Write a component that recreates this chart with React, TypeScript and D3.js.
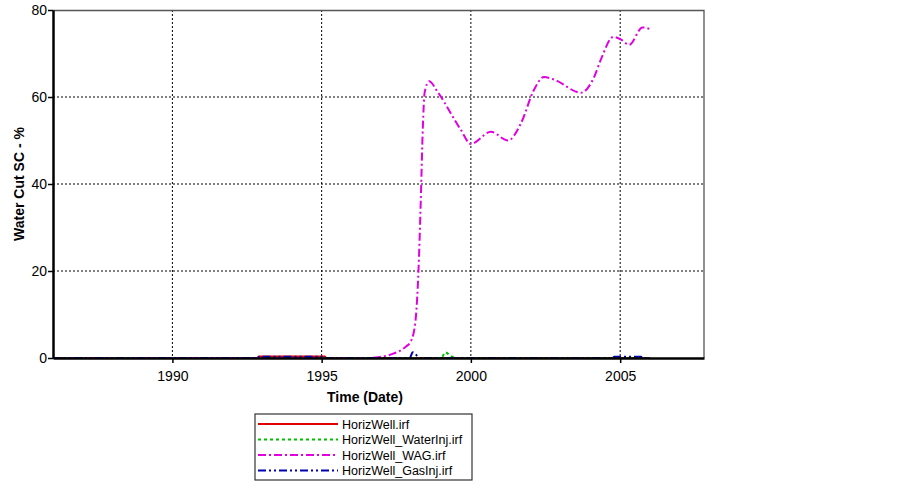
import React, { useEffect, useRef } from 'react';
import * as d3 from 'd3';

// decimal years
const wagYears = [1986.0, 1996.5, 1996.9, 1997.4, 1997.8, 1998.0, 1998.15, 1998.26, 1998.32, 1998.39, 1998.45, 1998.6, 1998.9, 1999.66, 2000.0, 2000.67, 2001.24, 2001.68, 2002.11, 2002.45, 2002.79, 2003.69, 2004.13, 2004.36, 2004.77, 2005.03, 2005.3, 2005.75, 2006.0];
const wagValues = [0, 0, 0.2, 1, 2.5, 4, 9, 23, 36, 53, 61, 63.6, 61, 52.5, 49.2, 52, 50, 54, 61.6, 64.6, 64, 61, 64.6, 68.7, 73.8, 73.2, 72, 76, 75.6];

const baseYears = [1986.0, 1992.85, 1992.9, 1995.1, 1995.15, 2006.0];
const baseValues = [0, 0, 0.35, 0.35, 0, 0];

const waterInjYears = [1986.0, 1999.0, 1999.15, 1999.3, 1999.5, 2006.0];
const waterInjValues = [0, 0, 1.3, 0.6, 0, 0];

const gasInjYears = [1986.0, 1992.85, 1992.9, 1995.1, 1995.15, 1997.95, 1998.05, 1998.3, 2004.75, 2004.8, 2005.7, 2005.75, 2006.0];
const gasInjValues = [0, 0, 0.3, 0.3, 0, 0, 1.3, 0, 0, 0.3, 0.3, 0, 0];

const seriesNames = ['HorizWell.irf', 'HorizWell_WaterInj.irf', 'HorizWell_WAG.irf', 'HorizWell_GasInj.irf'];
const seriesColors = ['#e00000', '#00c000', '#e000e0', '#0000b0'];
const seriesDashes = ['none', '3,3', '8,3,2,3', '8,3,2,3,2,3'];

const yTicks = [0, 20, 40, 60, 80];
const xTickYears = [1990, 1995, 2000, 2005];

function dec(y: number): Date {
  const yr = Math.floor(y);
  const start = new Date(yr, 0, 1).getTime();
  const end = new Date(yr + 1, 0, 1).getTime();
  return new Date(start + (end - start) * (y - yr));
}

export default function App() {
  const ref = useRef<SVGSVGElement>(null);

  useEffect(() => {
    const svg = d3.select(ref.current);
    svg.selectAll('*').remove();

    const margin = { top: 10, left: 53, right: 199, bottom: 132 };
    const W = 903, H = 490;
    const width = W - margin.left - margin.right;
    const height = H - margin.top - margin.bottom;

    const x = d3.scaleTime()
      .domain([dec(1986.0), dec(2007.81)])
      .range([0, width]);
    const y = d3.scaleLinear().domain([0, 80]).range([height, 0]);

    const g = svg.append('g').attr('transform', `translate(${margin.left},${margin.top})`);

    // grid
    g.append('g').selectAll('line')
      .data(xTickYears).join('line')
      .attr('x1', d => x(dec(d))).attr('x2', d => x(dec(d)))
      .attr('y1', 0).attr('y2', height)
      .attr('stroke', '#000').attr('stroke-width', 1).attr('stroke-dasharray', '2,2');
    g.append('g').selectAll('line')
      .data([20, 40, 60]).join('line')
      .attr('x1', 0).attr('x2', width)
      .attr('y1', d => y(d)).attr('y2', d => y(d))
      .attr('stroke', '#000').attr('stroke-width', 1).attr('stroke-dasharray', '2,2');

    // frame top / right
    g.append('path')
      .attr('d', `M0,0.5H${width}V${height}`)
      .attr('fill', 'none').attr('stroke', '#555').attr('stroke-width', 1.3);

    const series = [
      { years: baseYears, values: baseValues },
      { years: waterInjYears, values: waterInjValues },
      { years: wagYears, values: wagValues },
      { years: gasInjYears, values: gasInjValues },
    ];

    const line = d3.line<[number, number]>()
      .x(d => x(dec(d[0])))
      .y(d => y(d[1]))
      .curve(d3.curveMonotoneX);

    series.forEach((s, i) => {
      const pts = s.years.map((yr, k) => [yr, s.values[k]] as [number, number]);
      g.append('path')
        .datum(pts)
        .attr('d', line)
        .attr('fill', 'none')
        .attr('stroke', seriesColors[i])
        .attr('stroke-width', 2)
        .attr('stroke-dasharray', seriesDashes[i]);
    });

    // axes
    const xAxis = d3.axisBottom(x)
      .tickValues(xTickYears.map(dec))
      .tickFormat(d => d3.timeFormat('%Y')(d as Date))
      .tickSize(5).tickSizeOuter(0);
    const gx = g.append('g').attr('transform', `translate(0,${height})`).call(xAxis);
    gx.select('.domain').attr('stroke', '#000').attr('stroke-width', 2.5);
    gx.selectAll('.tick line').attr('stroke-width', 1.5);
    gx.selectAll('text').attr('font-family', 'Liberation Sans, Arial, sans-serif')
      .attr('font-size', 14).attr('fill', '#000').attr('dy', '1.05em');

    const yAxis = d3.axisLeft(y).tickValues(yTicks).tickSize(5).tickSizeOuter(0);
    const gy = g.append('g').call(yAxis);
    gy.select('.domain').attr('stroke', '#000').attr('stroke-width', 2.5);
    gy.selectAll('.tick line').attr('stroke-width', 1.5);
    gy.selectAll('text').attr('font-family', 'Liberation Sans, Arial, sans-serif')
      .attr('font-size', 14).attr('fill', '#000').attr('x', -6);

    // axis titles
    svg.append('text')
      .attr('x', 365).attr('y', 402)
      .attr('text-anchor', 'middle')
      .attr('font-family', 'Liberation Sans, Arial, sans-serif')
      .attr('font-weight', 'bold').attr('font-size', 14)
      .text('Time (Date)');
    svg.append('text')
      .attr('transform', `translate(24,${margin.top + height / 2}) rotate(-90)`)
      .attr('text-anchor', 'middle')
      .attr('font-family', 'Liberation Sans, Arial, sans-serif')
      .attr('font-weight', 'bold').attr('font-size', 14)
      .text('Water Cut SC - %');

    // legend
    const lg = svg.append('g').attr('transform', 'translate(255,414)');
    lg.append('rect')
      .attr('width', 217).attr('height', 66)
      .attr('fill', '#fff').attr('stroke', '#333').attr('stroke-width', 1.2);
    seriesNames.forEach((name, i) => {
      const yy = 10 + i * 15.5;
      lg.append('line')
        .attr('x1', 3).attr('x2', 83).attr('y1', yy).attr('y2', yy)
        .attr('stroke', seriesColors[i]).attr('stroke-width', 2)
        .attr('stroke-dasharray', seriesDashes[i]);
      lg.append('text')
        .attr('x', 87).attr('y', yy + 4.5)
        .attr('font-family', 'Liberation Sans, Arial, sans-serif')
        .attr('font-size', 12.5).attr('fill', '#000')
        .text(name);
    });
  }, []);

  return (
    <svg ref={ref} width={903} height={490}
      style={{ position: 'absolute', left: 0, top: 0, background: '#fff' }} />
  );
}
